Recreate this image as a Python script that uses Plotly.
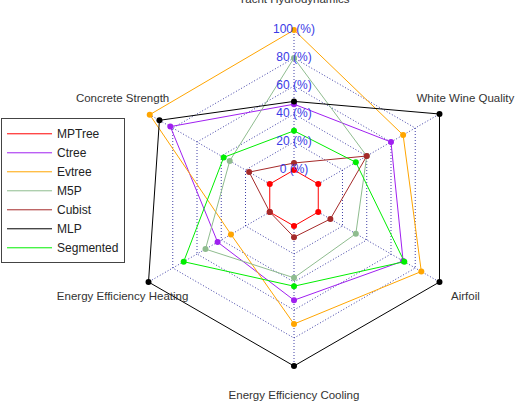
import plotly.graph_objects as go

categories = ["Yacht Hydrodynamics", "Concrete Strength", "Energy Efficiency Heating",
              "Energy Efficiency Cooling", "Airfoil", "White Wine Quality"]

mptree    = [0, 0, 0, 0, 0, 0]
ctree     = [47, 82, 43, 53, 70, 60]
evtree    = [100, 99, 32, 70, 85, 70]
m5p       = [80, 33, 53, 37, 31, 40]
cubist    = [5, 17, 0, 8, 10, 40]
mlp       = [49, 91, 100, 100, 100, 100]
segmented = [28, 38, 71, 43, 71, 31]

series_names = ["MPTree", "Ctree", "Evtree", "M5P", "Cubist", "MLP", "Segmented"]
series_values = [mptree, ctree, evtree, m5p, cubist, mlp, segmented]
series_colors = ["#ff0000", "#a020f0", "#ffa500", "#8fbc8f", "#a52a2a", "#000000", "#00ee00"]

tick_values = [0, 20, 40, 60, 80, 100]
tick_labels = [f"{v} (%)" for v in tick_values]

# geometry (pixels)
W, H = 515, 401
CX, CY = 294, 198          # centre of the radar, from top-left
R1 = 168                   # radius of the 100 % ring (grid layer)
R2 = 198                   # radius of the data / label layer
HOLE = 1 / 6               # 0 % ring sits at 1/6 of the radius (5 segments + gap)
axis_min, axis_max = 0, 100
px_per_unit = R1 * (1 - HOLE) / (axis_max - axis_min)
range2_min = axis_min - R1 * HOLE / px_per_unit
range2_max = range2_min + R2 / px_per_unit
label_r = range2_max - 0.05

def dom(rpx):
    return dict(x=[(CX - rpx) / W, (CX + rpx) / W],
                y=[(H - CY - rpx) / H, (H - CY + rpx) / H])

fig = go.Figure()

# grid layer (hexagonal grid, no data drawn on it except an invisible anchor)
fig.add_trace(go.Scatterpolar(
    r=[None] * len(categories), theta=categories, mode="lines",
    showlegend=False, hoverinfo="skip", subplot="polar"))

# data layer, same radial scale as the grid
for name, vals, col in zip(series_names, series_values, series_colors):
    r = vals + vals[:1]
    th = categories + categories[:1]
    fig.add_trace(go.Scatterpolar(
        r=r, theta=th, mode="lines", name=name, legendgroup=name,
        line=dict(color=col, width=1), showlegend=True, hoverinfo="skip",
        subplot="polar2"))
    fig.add_trace(go.Scatterpolar(
        r=vals, theta=categories, mode="markers", name=name, legendgroup=name,
        marker=dict(color=col, size=6), showlegend=False, subplot="polar2"))

# category labels outside the grid
fig.add_trace(go.Scatterpolar(
    r=[label_r] * len(categories), theta=categories, mode="text",
    text=categories, textposition="middle center",
    textfont=dict(color="#333333", size=11.5, family="Liberation Sans, Arial"),
    showlegend=False, hoverinfo="skip", cliponaxis=False, subplot="polar2"))

# radial tick labels along the top axis
fig.add_trace(go.Scatterpolar(
    r=tick_values, theta=[categories[0]] * len(tick_values), mode="text",
    text=tick_labels, textposition="middle center",
    textfont=dict(color="#3a3ae6", size=12, family="Liberation Sans, Arial"),
    showlegend=False, hoverinfo="skip", cliponaxis=False, subplot="polar2"))

grid_col = "rgba(30,30,150,0.85)"

fig.update_layout(
    width=W, height=H,
    margin=dict(l=0, r=0, t=0, b=0),
    paper_bgcolor="white", plot_bgcolor="white",
    font=dict(family="Liberation Sans, Arial", color="#222222"),
    polar=dict(
        domain=dom(R1),
        bgcolor="rgba(0,0,0,0)",
        gridshape="linear",
        hole=HOLE,
        radialaxis=dict(range=[axis_min, axis_max], tickvals=tick_values, showticklabels=False,
                        showline=False, ticks="", gridcolor=grid_col,
                        griddash="1px,2px", gridwidth=1, angle=90),
        angularaxis=dict(direction="counterclockwise", rotation=90, showticklabels=False,
                         showline=False, ticks="", gridcolor=grid_col,
                         griddash="1px,2px", gridwidth=1),
    ),
    polar2=dict(
        domain=dom(R2),
        bgcolor="rgba(0,0,0,0)",
        gridshape="circular",
        radialaxis=dict(range=[range2_min, range2_max], visible=False),
        angularaxis=dict(direction="counterclockwise", rotation=90, visible=False),
    ),
    legend=dict(x=0.002, y=0.705, xanchor="left", yanchor="top",
                bordercolor="#444444", borderwidth=1, bgcolor="white",
                font=dict(size=12, color="#222222", family="Liberation Sans, Arial"),
                tracegroupgap=0, itemwidth=45),
)

fig.write_html("out.html")
